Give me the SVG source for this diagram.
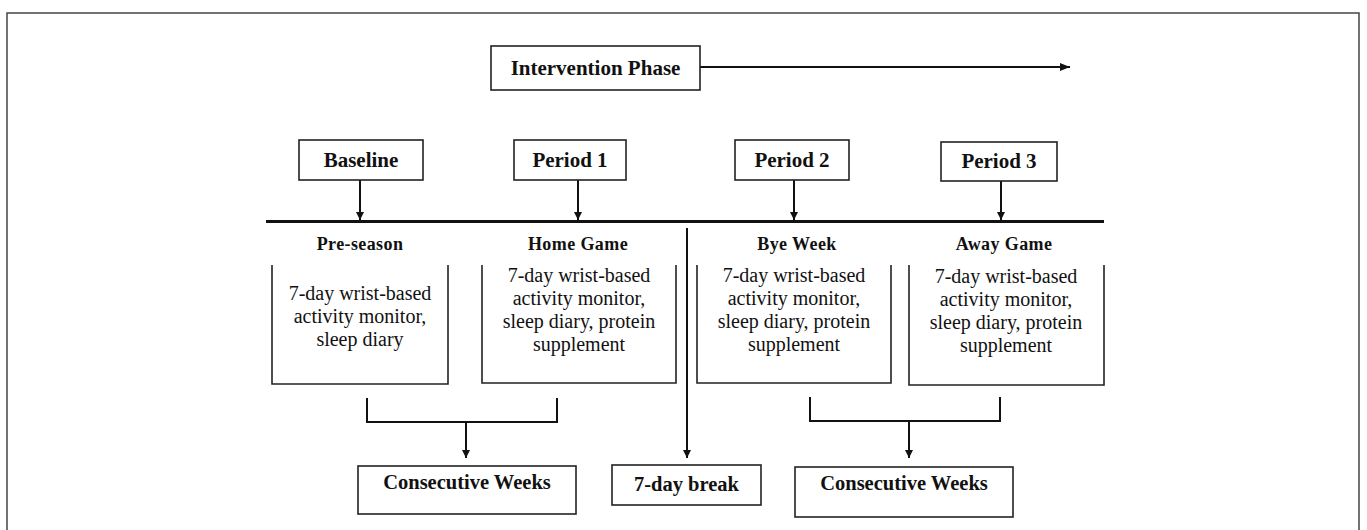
<svg xmlns="http://www.w3.org/2000/svg" width="1367" height="530" viewBox="0 0 1367 530">
<defs>
<style>
.frame{fill:none;stroke:#444;stroke-width:1.5}
.box{fill:#fff;stroke:#222;stroke-width:1.6}
.open{fill:none;stroke:#222;stroke-width:1.6}
.ln{fill:none;stroke:#111;stroke-width:2}
.tl{fill:none;stroke:#111;stroke-width:3}
.h{font-family:"Liberation Serif","Times New Roman",serif;font-weight:bold;font-size:21px;fill:#111;text-anchor:middle}
.c{font-family:"Liberation Serif","Times New Roman",serif;font-weight:bold;font-size:20.5px;fill:#111;text-anchor:middle}
.s{font-family:"Liberation Serif","Times New Roman",serif;font-weight:bold;font-size:18px;letter-spacing:0.4px;fill:#111;text-anchor:middle}
.b{font-family:"Liberation Serif","Times New Roman",serif;font-size:20px;fill:#111;text-anchor:middle}
</style>
<marker id="ah2" viewBox="0 0 10 10" refX="10" refY="5" markerWidth="8" markerHeight="8" orient="auto" markerUnits="userSpaceOnUse">
<path d="M0,0 L10,5 L0,10 z" fill="#111"/>
</marker>
<marker id="ah3" viewBox="0 0 10 10" refX="10" refY="5" markerWidth="10" markerHeight="10" orient="auto" markerUnits="userSpaceOnUse">
<path d="M0,1 L10,5 L0,9 z" fill="#111"/>
</marker>
</defs>
<rect x="0" y="0" width="1367" height="530" fill="#fff"/>
<rect class="frame" x="7" y="13" width="1352" height="540"/>

<g id="connectors">
<line class="tl" x1="266" y1="221.5" x2="1104" y2="221.5"/>
<line class="ln" x1="700" y1="67" x2="1070" y2="67" marker-end="url(#ah3)"/>
<line class="ln" x1="360" y1="180" x2="360" y2="220" marker-end="url(#ah2)"/>
<line class="ln" x1="578" y1="180" x2="578" y2="220" marker-end="url(#ah2)"/>
<line class="ln" x1="794" y1="180" x2="794" y2="220" marker-end="url(#ah2)"/>
<line class="ln" x1="1001" y1="181" x2="1001" y2="220" marker-end="url(#ah2)"/>
<line class="ln" x1="687" y1="228" x2="687" y2="458" marker-end="url(#ah2)"/>
<path class="ln" d="M367,398 V422 H557 V398"/>
<line class="ln" x1="466" y1="422" x2="466" y2="458" marker-end="url(#ah2)"/>
<path class="ln" d="M810,397 V421 H1000 V397"/>
<line class="ln" x1="909" y1="421" x2="909" y2="458" marker-end="url(#ah2)"/>
</g>

<g id="intervention">
<rect class="box" x="491" y="46" width="209" height="44"/>
<text class="h" x="595.5" y="75">Intervention Phase</text>
</g>

<g id="baseline">
<rect class="box" x="299" y="140" width="124" height="40"/>
<text class="h" x="361" y="167">Baseline</text>
</g>
<g id="period1">
<rect class="box" x="514" y="140" width="112" height="40"/>
<text class="h" x="570" y="167">Period 1</text>
</g>
<g id="period2">
<rect class="box" x="735" y="140" width="114" height="40"/>
<text class="h" x="792" y="167">Period 2</text>
</g>
<g id="period3">
<rect class="box" x="941" y="142" width="116" height="39"/>
<text class="h" x="999" y="168">Period 3</text>
</g>

<g id="preseason">
<text class="s" x="360" y="250">Pre-season</text>
<path class="open" d="M272,265 V384 H448 V265"/>
<text class="b" x="360" y="300">7-day wrist-based</text>
<text class="b" x="360" y="323">activity monitor,</text>
<text class="b" x="360" y="346">sleep diary</text>
</g>
<g id="homegame">
<text class="s" x="578" y="250">Home Game</text>
<path class="open" d="M482,265 V383 H676 V265"/>
<text class="b" x="579" y="282">7-day wrist-based</text>
<text class="b" x="579" y="305">activity monitor,</text>
<text class="b" x="579" y="328">sleep diary, protein</text>
<text class="b" x="579" y="351">supplement</text>
</g>
<g id="byeweek">
<text class="s" x="797" y="250">Bye Week</text>
<path class="open" d="M697,265 V383 H891 V265"/>
<text class="b" x="794" y="282">7-day wrist-based</text>
<text class="b" x="794" y="305">activity monitor,</text>
<text class="b" x="794" y="328">sleep diary, protein</text>
<text class="b" x="794" y="351">supplement</text>
</g>
<g id="awaygame">
<text class="s" x="1004" y="250">Away Game</text>
<path class="open" d="M909,265 V385 H1104 V265"/>
<text class="b" x="1006" y="283">7-day wrist-based</text>
<text class="b" x="1006" y="306">activity monitor,</text>
<text class="b" x="1006" y="329">sleep diary, protein</text>
<text class="b" x="1006" y="352">supplement</text>
</g>

<g id="consecutive1">
<rect class="box" x="358" y="466" width="218" height="48"/>
<text class="c" x="467" y="489">Consecutive Weeks</text>
</g>
<g id="break">
<rect class="box" x="612" y="465" width="149" height="40"/>
<text class="c" x="686.5" y="491">7-day break</text>
</g>
<g id="consecutive2">
<rect class="box" x="795" y="467" width="218" height="50"/>
<text class="c" x="904" y="490">Consecutive Weeks</text>
</g>
</svg>
